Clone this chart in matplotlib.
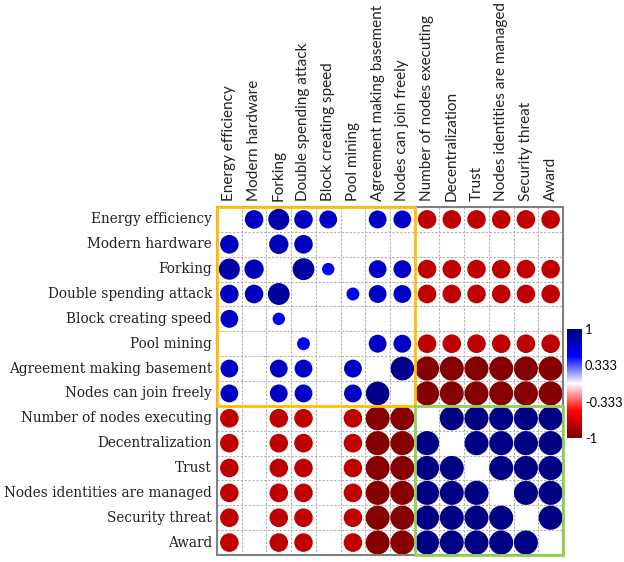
import numpy as np
import matplotlib
matplotlib.use("Agg")
import matplotlib.pyplot as plt
from matplotlib.patches import Circle, Rectangle
from matplotlib.colors import LinearSegmentedColormap

labels = ["Energy efficiency", "Modern hardware", "Forking", "Double spending attack",
          "Block creating speed", "Pool mining", "Agreement making basement",
          "Nodes can join freely", "Number of nodes executing", "Decentralization",
          "Trust", "Nodes identities are managed", "Security threat", "Award"]

# upper-triangle correlations (pairs i<j), the rest are zero
pairs = {
    (0, 1): 0.75, (0, 2): 0.85, (0, 3): 0.75, (0, 4): 0.72, (0, 6): 0.72, (0, 7): 0.72,
    (1, 2): 0.78, (1, 3): 0.75,
    (2, 3): 0.88, (2, 4): 0.50, (2, 6): 0.72, (2, 7): 0.72,
    (3, 5): 0.52, (3, 6): 0.72, (3, 7): 0.72,
    (5, 6): 0.72, (5, 7): 0.72,
    (6, 7): 0.95,
}
pos_group = [0, 2, 3, 5]          # moderately negative with the last block
strong_group = [6, 7]             # strongly negative with the last block
last_block = list(range(8, 14))
neg_mod = -0.75
neg_strong = -0.97
pos_last = 0.97

n = len(labels)
R = np.zeros((n, n))
for (i, j), v in pairs.items():
    R[i, j] = R[j, i] = v
for i in pos_group:
    for j in last_block:
        R[i, j] = R[j, i] = neg_mod
for i in strong_group:
    for j in last_block:
        R[i, j] = R[j, i] = neg_strong
for i in last_block:
    for j in last_block:
        if i != j:
            R[i, j] = pos_last

cmap = LinearSegmentedColormap.from_list(
    "rwb", ["#7F0000", "#FF0000", "#FFFFFF", "#0000FF", "#00007F"])

W, H = 624, 562
fig = plt.figure(figsize=(W / 100, H / 100), dpi=100)
x0, x1, y0, y1 = 217, 563, 207, 555
ax = fig.add_axes([x0 / W, 1 - y1 / H, (x1 - x0) / W, (y1 - y0) / H])
ax.set_xlim(0, n)
ax.set_ylim(n, 0)
ax.axis("off")

# dashed grid
for k in range(1, n):
    ax.plot([k, k], [0, n], color="#b0b0b0", lw=0.8, ls=(0, (2, 1.5)), zorder=1)
    ax.plot([0, n], [k, k], color="#b0b0b0", lw=0.8, ls=(0, (2, 1.5)), zorder=1)

for i in range(n):
    for j in range(n):
        v = R[i, j]
        if i == j or v == 0:
            continue
        ax.add_patch(Circle((j + 0.5, i + 0.5), 0.5 * abs(v),
                            facecolor=cmap((v + 1) / 2), edgecolor="none", zorder=2))

ax.add_patch(Rectangle((0, 0), n, n, fill=False, ec="#808080", lw=1.5, zorder=3, clip_on=False))
ax.add_patch(Rectangle((0, 0), 8, 8, fill=False, ec="#FFC000", lw=2, zorder=4, clip_on=False))
ax.add_patch(Rectangle((8, 8), 6, 6, fill=False, ec="#92D050", lw=2, zorder=4, clip_on=False))

for k, lab in enumerate(labels):
    ax.text(-0.2, k + 0.5, lab, ha="right", va="center", fontsize=9.8,
            family="DejaVu Serif", color="#222222")
    ax.text(k + 0.5, -0.25, lab, ha="center", va="bottom", rotation=90, fontsize=11,
            family="Lato", color="#222222")

# colorbar
cax = fig.add_axes([567 / W, 1 - 438 / H, 15 / W, (438 - 329) / H])
grad = np.linspace(1, -1, 200).reshape(-1, 1)
cax.imshow(grad, aspect="auto", cmap=cmap, vmin=-1, vmax=1, extent=[0, 1, -1, 1])
cax.set_xticks([])
cax.yaxis.tick_right()
cax.set_yticks([1, 0.333, -0.333, -1])
cax.set_yticklabels(["1", "0.333", "-0.333", "-1"], family="Lato", fontsize=9.3)
cax.tick_params(axis="y", length=0, pad=2)
for s in cax.spines.values():
    s.set_visible(False)

fig.savefig("out.png", dpi=100)
